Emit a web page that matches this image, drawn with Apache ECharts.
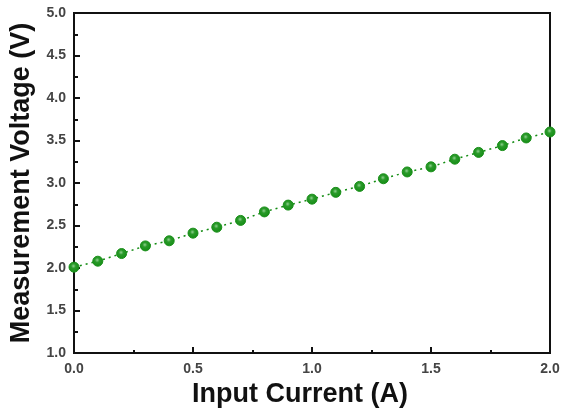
<!DOCTYPE html>
<html>
<head>
<meta charset="utf-8">
<style>
  html, body { margin: 0; padding: 0; background: #fff; }
  #chart { width: 567px; height: 412px; }
</style>
<script src="https://cdn.jsdelivr.net/npm/echarts@6/dist/echarts.min.js"></script>
</head>
<body>
<div id="chart"></div>
<script>
  // 输入电流 (A) 与测量电压 (V)
  const currents = [0.0, 0.1, 0.2, 0.3, 0.4, 0.5, 0.6, 0.7, 0.8, 0.9, 1.0,
                    1.1, 1.2, 1.3, 1.4, 1.5, 1.6, 1.7, 1.8, 1.9, 2.0];
  const voltages = [2.01, 2.08, 2.17, 2.26, 2.32, 2.41, 2.48, 2.56, 2.66, 2.74, 2.81,
                    2.89, 2.96, 3.05, 3.13, 3.19, 3.28, 3.36, 3.44, 3.53, 3.60];

  const green = '#138c13';
  const fontFamily = 'Liberation Sans, Arial, sans-serif';
  const labelStyle = {
    color: '#444',
    fontFamily: fontFamily,
    fontWeight: 'bold',
    fontSize: 14
  };
  const titleStyle = { color: '#111', fontFamily: fontFamily, fontWeight: 'bold', fontSize: 27 };

  const chart = echarts.init(document.getElementById('chart'));
  chart.setOption({
    animation: false,
    grid: {
      left: 74, right: 17, top: 13, bottom: 59,
      outerBoundsMode: 'none',
      show: true, borderColor: '#111', borderWidth: 2
    },
    xAxis: {
      type: 'value',
      min: 0, max: 2, interval: 0.5,
      name: 'Input Current (A)',
      nameLocation: 'middle',
      nameGap: 27,
      nameTextStyle: Object.assign({ padding: [0, 24, 0, 0] }, titleStyle),
      axisLine: { show: true, lineStyle: { color: '#111', width: 2 } },
      axisTick: { show: true, inside: true, length: 6, lineStyle: { color: '#111', width: 2 } },
      minorTick: { show: true, splitNumber: 2, length: 3, lineStyle: { color: '#111', width: 2 } },
      axisLabel: Object.assign({ margin: 9, formatter: v => v.toFixed(1) }, labelStyle),
      splitLine: { show: false }
    },
    yAxis: {
      type: 'value',
      min: 1, max: 5, interval: 0.5,
      name: 'Measurement Voltage (V)',
      nameLocation: 'middle',
      nameGap: 39,
      nameTextStyle: titleStyle,
      axisLine: { show: true, lineStyle: { color: '#111', width: 2 } },
      axisTick: { show: true, inside: true, length: 6, lineStyle: { color: '#111', width: 2 } },
      minorTick: { show: true, splitNumber: 2, length: 4, lineStyle: { color: '#111', width: 2 } },
      axisLabel: Object.assign({ margin: 8, formatter: v => v.toFixed(1) }, labelStyle),
      splitLine: { show: false }
    },
    series: [{
      type: 'line',
      data: currents.map((c, i) => [c, voltages[i]]),
      symbol: 'circle',
      symbolSize: 10,
      clip: false,
      lineStyle: { color: green, width: 1.5, type: [2, 4] },
      itemStyle: {
        color: {
          type: 'radial', x: 0.45, y: 0.4, r: 0.6,
          colorStops: [{ offset: 0, color: '#8fd08f' }, { offset: 0.35, color: '#2a9a2a' }, { offset: 1, color: green }]
        },
        borderColor: '#1a8f1a',
        borderWidth: 1
      }
    }]
  });
</script>
</body>
</html>
